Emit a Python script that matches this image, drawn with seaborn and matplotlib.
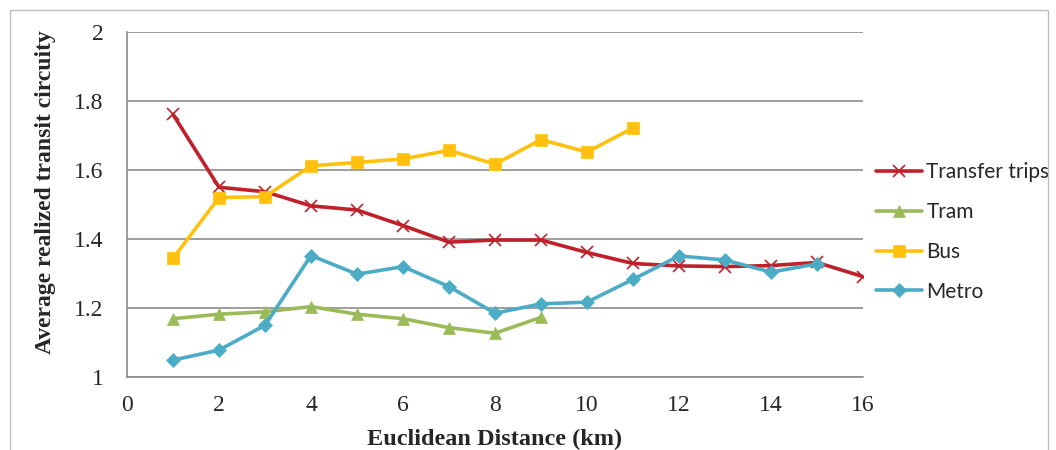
import numpy as np
import pandas as pd
import matplotlib
matplotlib.use("Agg")
import matplotlib.pyplot as plt
import seaborn as sns
from matplotlib.patches import Rectangle

# data
transfer_x = list(range(1, 17))
transfer_y = [1.761, 1.550, 1.537, 1.496, 1.484, 1.439, 1.391, 1.397,
              1.397, 1.361, 1.329, 1.322, 1.320, 1.323, 1.332, 1.291]
tram_x = list(range(1, 10))
tram_y = [1.169, 1.182, 1.189, 1.204, 1.182, 1.169, 1.143, 1.127, 1.173]
bus_x = list(range(1, 12))
bus_y = [1.344, 1.520, 1.523, 1.612, 1.622, 1.632, 1.657, 1.617, 1.688, 1.652, 1.722]
metro_x = list(range(1, 16))
metro_y = [1.049, 1.078, 1.150, 1.352, 1.298, 1.320, 1.262, 1.185,
           1.212, 1.217, 1.283, 1.351, 1.339, 1.304, 1.328]

series = [
    ("Transfer trips", transfer_x, transfer_y, "#C0202A", "x", 9),
    ("Tram", tram_x, tram_y, "#9BBB59", "^", 9),
    ("Bus", bus_x, bus_y, "#FFC10E", "s", 9),
    ("Metro", metro_x, metro_y, "#4BACC6", "D", 7),
]

sns.set_style("white")
plt.rcParams["font.family"] = ["Liberation Serif", "DejaVu Serif"]

fig = plt.figure(figsize=(10.56, 4.5), dpi=100)
ax = fig.add_axes([127 / 1056, 1 - 377 / 450, (863 - 127) / 1056, (377 - 32) / 450])

for name, xs, ys, color, mk, ms in series:
    df = pd.DataFrame({"x": xs, "y": ys})
    sns.lineplot(data=df, x="x", y="y", ax=ax, color=color, linewidth=2.6,
                 marker=mk, markersize=ms, markeredgecolor=color,
                 markeredgewidth=1.2 if mk == "x" else 0.5, label=name)

ax.set_xlim(0, 16)
ax.set_ylim(1, 2)
ax.set_xticks(np.arange(0, 17, 2))
ax.set_yticks([1, 1.2, 1.4, 1.6, 1.8, 2])
ax.set_yticklabels(["1", "1.2", "1.4", "1.6", "1.8", "2"])
ax.yaxis.grid(True, color="#8c8c8c", linewidth=1.2)
ax.xaxis.grid(False)
for s in ["top", "right"]:
    ax.spines[s].set_visible(False)
for s in ["left", "bottom"]:
    ax.spines[s].set_color("#8c8c8c")
    ax.spines[s].set_linewidth(1.2)
ax.tick_params(axis="both", direction="out", length=7, width=1.2, color="#8c8c8c",
               labelsize=17)
ax.tick_params(axis="y", pad=10)
ax.tick_params(axis="x", pad=6)
ax.set_xlabel("Euclidean Distance (km)", fontsize=17.5, fontweight="bold")
ax.set_ylabel("Average realized transit circuity", fontsize=17, fontweight="bold")
ax.xaxis.set_label_coords(0.5, -0.15)
ax.yaxis.set_label_coords(-0.097, 0.536)

leg = ax.legend(loc="center left", bbox_to_anchor=(866 / 1056, 1 - 232 / 450),
                bbox_transform=fig.transFigure, frameon=False,
                prop={"family": "Lato", "size": 15}, handlelength=2.2,
                labelspacing=0.95, handletextpad=0.2, borderpad=0)

fig.patches.append(Rectangle((10 / 1056, -0.05), 1038 / 1056, 1 - 10 / 450 + 0.05,
                             transform=fig.transFigure, fill=False,
                             edgecolor="#bfbfbf", linewidth=1))

fig.savefig("out.png", dpi=100)
